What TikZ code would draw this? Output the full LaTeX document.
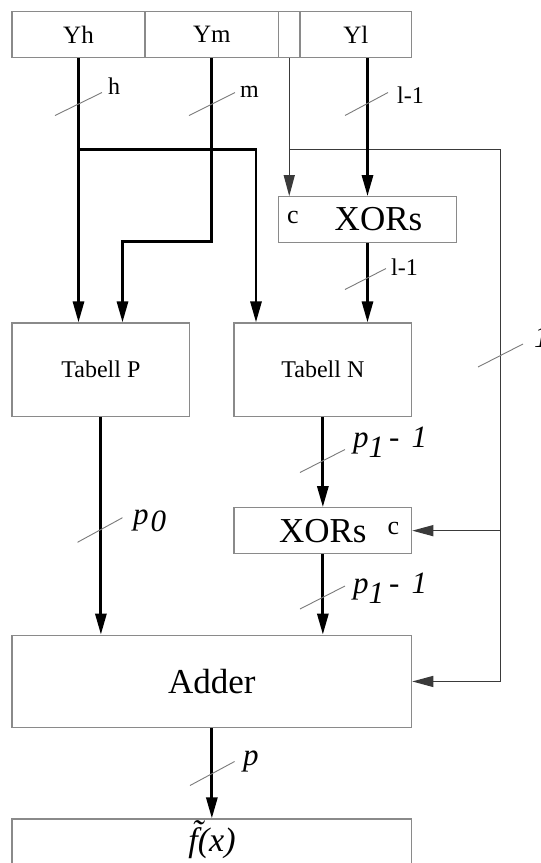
\documentclass[tikz,border=0pt]{standalone}
\usepackage{fontspec}
\setmainfont{Liberation Serif}
\usetikzlibrary{arrows.meta}
\definecolor{boxgray}{HTML}{8A8A8A}
\definecolor{slashgray}{HTML}{7A7A7A}
\definecolor{busgray}{HTML}{3A3A3A}
\begin{document}
\begin{tikzpicture}[x=1pt,y=-1pt,
  blk/.style={draw=boxgray,line width=1.1pt,inner sep=0pt},
  wire/.style={line width=2.9pt,black},
  thinw/.style={line width=1.2pt,busgray},
  arr/.style={-{Triangle[length=21pt,width=11pt]}},
  sl/.style={slashgray,line width=0.9pt},
  fs/.style={font=\fontsize{#1}{#1}\selectfont},
  wl/.style={fs=24,anchor=base west,inner sep=0pt},
  il/.style={font=\fontsize{31}{31}\selectfont\itshape,anchor=base west,inner sep=0pt}
]
\useasboundingbox (0,0) rectangle (541,863);
\clip (0,0) rectangle (541,863);

% register
\node[blk,fs=25,minimum width=133pt,minimum height=46pt] (yh) at (78.5,34.35) {Yh};
\node[blk,fs=25,minimum width=133.5pt,minimum height=46pt] (ym) at (211.75,34.35) {Ym};
\node[blk,minimum width=21.5pt,minimum height=46pt] (yc) at (289.25,34.35) {};
\node[blk,fs=25,minimum width=111.5pt,minimum height=46pt] (yl) at (355.75,34.35) {Yl};

% blocks
\node[blk,minimum width=178pt,minimum height=45.5pt] (xor1) at (367.5,219.45) {};
\node[fs=26,inner sep=0pt] (c1) at (293,217) {c};
\node[fs=35,inner sep=0pt] (x1t) at (378.5,219.5) {XORs};

\node[blk,fs=24,minimum width=177.8pt,minimum height=93.3pt] (tp) at (100.9,369.65) {Tabell P};
\node[blk,fs=24,minimum width=177.7pt,minimum height=93.3pt] (tn) at (322.85,369.65) {Tabell N};

\node[blk,fs=35,minimum width=177.7pt,minimum height=45.9pt] (xor2) at (322.85,530.65) {XORs};
\node[fs=26,inner sep=0pt] (c2) at (393.4,528) {c};

\node[blk,fs=35,minimum width=399.7pt,minimum height=92.5pt] (adder) at (211.85,681.45) {Adder};
\node[blk,minimum width=399.7pt,minimum height=93pt] (fbox) at (211.85,865.5) {};
\node[fs=34,anchor=base,inner sep=0pt] (ft) at (212,851) {\itshape \~{f}(x)};

% helper coordinates
\coordinate (hb) at (0,149.4);
\coordinate (ncol) at (256,0);
\coordinate (pcol) at (122.5,0);
\coordinate (mturn) at (0,241.5);
\coordinate (bus) at (500.3,0);

% wires
\draw[wire,arr] (yh.south) -- (yh.south |- tp.north);
\draw[wire,arr,line join=miter] (ym.south) -- (ym.south |- mturn) -| (pcol |- tp.north);
\draw[wire,arr] (yh.south |- hb) -| (ncol |- tn.north);
\draw[thinw,arr] (yc.south) -- (yc.south |- xor1.north);
\draw[thinw,arr] (yc.south |- hb) -| (bus |- adder.east) -- (adder.east);
\draw[thinw,arr] (bus |- xor2.east) -- (xor2.east);
\draw[wire,arr] (yl.south -| xor1.north) -- (xor1.north);
\draw[wire,arr] (xor1.south) -- (xor1.south |- tn.north);
\draw[wire,arr] (tp.south) -- (tp.south |- adder.north);
\draw[wire,arr] (tn.south) -- (xor2.north);
\draw[wire,arr] (xor2.south) -- (xor2.south |- adder.north);
\draw[wire,arr] (adder.south) -- (fbox.north);

% bus-width slashes
\draw[sl] (78.5,104) +(-23.5,11.5) -- +(23.5,-11.5);
\draw[sl] (212,104) +(-23,11.5) -- +(23,-11.5);
\draw[sl] (366.5,104) +(-21.5,11.5) -- +(21.5,-11.5);
\draw[sl] (366,279) +(-21,10.5) -- +(20,-10.5);
\draw[sl] (322.5,461) +(-22.5,11.5) -- +(22.5,-11.5);
\draw[sl] (100,530) +(-22.5,12.3) -- +(22.5,-12.3);
\draw[sl] (322.5,597.5) +(-22.5,11.5) -- +(22.5,-11.5);
\draw[sl] (212.3,773.5) +(-22.3,12) -- +(22.3,-12);
\draw[sl] (500.5,355.5) +(-22.5,11.5) -- +(22.5,-11.5);

% labels
\node[wl] (lh) at (108,94) {h};
\node[wl] (lm) at (240,97) {m};
\node[wl] (ll1) at (397,103) {l-1};
\node[wl] (ll2) at (391,275) {l-1};
\node[il] (lp1a) at (353,447) {p\raisebox{-10pt}{1}\hspace{5pt}-\hspace{12pt}1};
\node[il] (lp0) at (133,524) {p\hspace{2pt}\raisebox{-7pt}{0}};
\node[il] (lp1b) at (353,593) {p\raisebox{-10pt}{1}\hspace{5pt}-\hspace{12pt}1};
\node[il] (lp) at (243,765) {p};
\node[il] (lr) at (534,347) {1};
\end{tikzpicture}
\end{document}
